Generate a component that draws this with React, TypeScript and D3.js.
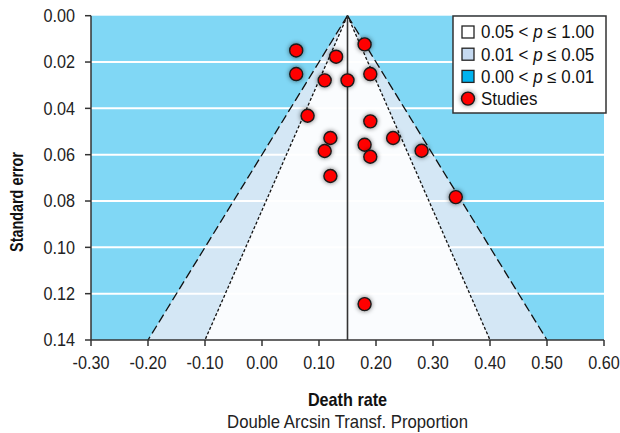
import * as d3 from "d3";
import React from "react";

// studies: effect (double arcsin transformed death rate) and standard error
const effects = [0.06, 0.13, 0.18, 0.06, 0.11, 0.15, 0.19, 0.08, 0.19, 0.12, 0.23, 0.11, 0.18, 0.19, 0.28, 0.12, 0.34, 0.18];
const stdErrors = [0.015, 0.0177, 0.0124, 0.0252, 0.0279, 0.0279, 0.0252, 0.0432, 0.0456, 0.0528, 0.0528, 0.0584, 0.0557, 0.0609, 0.0583, 0.0692, 0.0783, 0.1245];

const pooled = 0.15;
const outerBottom = [-0.2, 0.5]; // p = 0.01 contour at se 0.14
const innerBottom = [-0.1, 0.4]; // p = 0.05 contour at se 0.14

const xTicks = [-0.3, -0.2, -0.1, 0, 0.1, 0.2, 0.3, 0.4, 0.5, 0.6];
const yTicks = [0, 0.02, 0.04, 0.06, 0.08, 0.1, 0.12, 0.14];

const legendLabels = ["0.05 < p ≤ 1.00", "0.01 < p ≤ 0.05", "0.00 < p ≤ 0.01", "Studies"];
const legendFills = ["#ffffff", "#c6daf1", "#00b3ef", "#ff0000"];

const font = "'Liberation Sans Narrow', 'Arial Narrow', 'Liberation Sans', Arial, sans-serif";

// narrow-looking text: squeeze horizontally around its anchor
function NText({ x, y, sx, rotate = 0, children, ...rest }: any) {
  return (
    <text transform={`translate(${x},${y}) rotate(${rotate}) scale(${sx},1)`} {...rest}>
      {children}
    </text>
  );
}

export default function App() {
  const width = 620;
  const height = 433;
  const x = d3.scaleLinear().domain([-0.3, 0.6]).range([91, 604]);
  const y = d3.scaleLinear().domain([0, 0.14]).range([15.7, 340]);
  const seMax = 0.14;

  const tri = (b: number[]) =>
    `M${x(pooled)},${y(0)}L${x(b[0])},${y(seMax)}L${x(b[1])},${y(seMax)}Z`;
  const line = (a: number) => `M${x(pooled)},${y(0)}L${x(a)},${y(seMax)}`;

  return (
    <svg width={width} height={height} style={{ position: "absolute", left: 0, top: 0 }} fontFamily={font}>
      <defs>
        <filter id="glow" x="-100%" y="-100%" width="300%" height="300%">
          <feGaussianBlur in="SourceAlpha" stdDeviation="2.5" />
          <feComponentTransfer>
            <feFuncA type="linear" slope="0.55" />
          </feComponentTransfer>
          <feMerge>
            <feMergeNode />
            <feMergeNode in="SourceGraphic" />
          </feMerge>
        </filter>
      </defs>
      <rect width={width} height={height} fill="#fff" />
      <rect x={x(-0.3)} y={y(0)} width={x(0.6) - x(-0.3)} height={y(0.14) - y(0)} fill="#80d7f5" />
      <path d={tri(outerBottom)} fill="#d4e7f5" />
      <path d={tri(innerBottom)} fill="#fafcfe" />
      {yTicks.slice(1, -1).map((t) => (
        <line key={t} x1={x(-0.3)} x2={x(0.6)} y1={y(t)} y2={y(t)} stroke="#fff" strokeWidth={2} />
      ))}
      {outerBottom.map((b) => (
        <path key={"o" + b} d={line(b)} stroke="#111" strokeWidth={1.3} strokeDasharray="9,4" fill="none" />
      ))}
      {innerBottom.map((b) => (
        <path key={"i" + b} d={line(b)} stroke="#111" strokeWidth={1.3} strokeDasharray="3,2" fill="none" />
      ))}
      <line x1={x(pooled)} x2={x(pooled)} y1={y(0)} y2={y(seMax)} stroke="#333" strokeWidth={1.6} />

      {/* axes */}
      <line x1={x(-0.3)} x2={x(-0.3)} y1={y(0)} y2={y(0.14)} stroke="#333" strokeWidth={1.5} />
      <line x1={x(-0.3)} x2={x(0.6)} y1={y(0.14)} y2={y(0.14)} stroke="#333" strokeWidth={1.5} />
      {yTicks.map((t) => (
        <g key={t}>
          <line x1={x(-0.3) - 6} x2={x(-0.3)} y1={y(t)} y2={y(t)} stroke="#333" strokeWidth={1.5} />
          <NText x={x(-0.3) - 16} y={y(t)} sx={0.9} dy="0.35em" textAnchor="end" fontSize={18} fill="#222">
            {t.toFixed(2)}
          </NText>
        </g>
      ))}
      {xTicks.map((t) => (
        <g key={t}>
          <line x1={x(t)} x2={x(t)} y1={y(0.14)} y2={y(0.14) + 6} stroke="#333" strokeWidth={1.5} />
          <NText x={x(t)} y={369} sx={0.9} textAnchor="middle" fontSize={18} fill="#222">
            {t.toFixed(2)}
          </NText>
        </g>
      ))}
      <NText x={x(pooled)} y={406} sx={0.9} textAnchor="middle" fontSize={18} fontWeight="bold" fill="#111">
        Death rate
      </NText>
      <NText x={x(pooled)} y={428} sx={0.93} textAnchor="middle" fontSize={18} fill="#222">
        Double Arcsin Transf. Proportion
      </NText>
      <NText x={23} y={202} rotate={-90} sx={0.8} textAnchor="middle" fontSize={18} fontWeight="bold" fill="#111">
        Standard error
      </NText>

      {effects.map((e, i) => (
        <circle key={i} cx={x(e)} cy={y(stdErrors[i])} r={6.5} fill="#ff0000" stroke="#1a1a1a" strokeWidth={1.4} filter="url(#glow)" />
      ))}

      {/* legend */}
      <g transform="translate(453,16)">
        <rect width={153} height={97} fill="#fff" stroke="#333" strokeWidth={1.5} />
        {legendLabels.map((l, i) => {
          const cy = 16 + i * 22.2;
          const parts = l.split(" p ");
          return (
            <g key={l}>
              {i < 3 ? (
                <rect x={9} y={cy - 6} width={12} height={12} fill={legendFills[i]} stroke="#222" strokeWidth={1.3} />
              ) : (
                <circle cx={15} cy={cy} r={6.5} fill={legendFills[i]} stroke="#1a1a1a" strokeWidth={1.4} filter="url(#glow)" />
              )}
              <NText x={28} y={cy} sx={0.94} dy="0.35em" fontSize={18} fill="#111">
                {parts.length > 1 ? (
                  <>
                    {parts[0]} <tspan fontStyle="italic">p</tspan> {parts[1]}
                  </>
                ) : (
                  l
                )}
              </NText>
            </g>
          );
        })}
      </g>
    </svg>
  );
}
